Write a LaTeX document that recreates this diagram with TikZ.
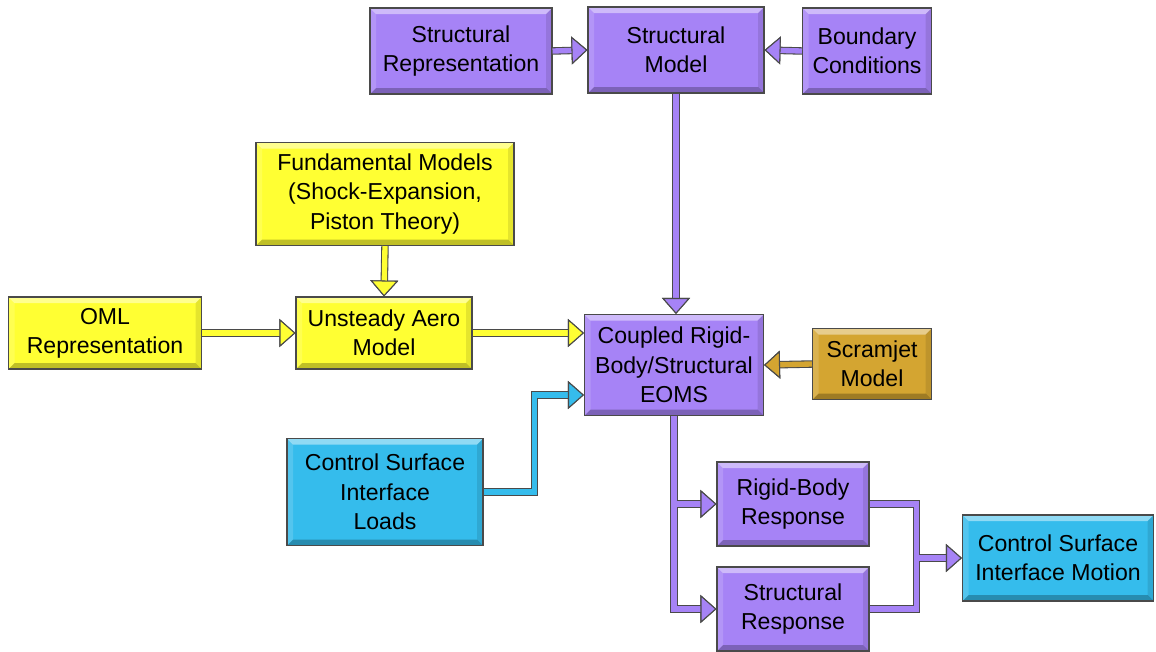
\documentclass[tikz,border=0pt]{standalone}
\usepackage{fontspec}
\setmainfont{Liberation Sans}
\usetikzlibrary{positioning,arrows.meta}
\definecolor{blk-purple}{RGB}{166,131,246}
\definecolor{blk-yellow}{RGB}{255,255,51}
\definecolor{blk-gold}{RGB}{212,165,49}
\definecolor{blk-cyan}{RGB}{53,188,236}
\definecolor{blk-edge}{RGB}{74,74,74}

\begin{document}
\begin{tikzpicture}[x=0.75pt, y=-0.75pt,
          box/.style={
            draw=blk-edge, line width=0.8pt, fill=#1,
            align=center, inner sep=1pt,
            font=\fontsize{17.3}{22}\selectfont,
            path picture={
              \fill[white, opacity=.45] (path picture bounding box.north west)
                -- (path picture bounding box.north east)
                -- ([shift={(-4.5pt,-4.5pt)}]path picture bounding box.north east)
                -- ([shift={(4.5pt,-4.5pt)}]path picture bounding box.north west) -- cycle;
              \fill[black, opacity=.25] (path picture bounding box.south west)
                -- (path picture bounding box.south east)
                -- ([shift={(-4.5pt,4.5pt)}]path picture bounding box.south east)
                -- ([shift={(4.5pt,4.5pt)}]path picture bounding box.south west) -- cycle;
              \fill[black, opacity=.1] (path picture bounding box.south east)
                -- (path picture bounding box.north east)
                -- ([shift={(-4.5pt,-4.5pt)}]path picture bounding box.north east)
                -- ([shift={(-4.5pt,4.5pt)}]path picture bounding box.south east) -- cycle;
              \fill[white, opacity=.15] (path picture bounding box.south west)
                -- (path picture bounding box.north west)
                -- ([shift={(4.5pt,-4.5pt)}]path picture bounding box.north west)
                -- ([shift={(4.5pt,4.5pt)}]path picture bounding box.south west) -- cycle;
            }},
          pipe/.style={
            line width=4pt, draw=#1,
            preaction={draw=blk-edge, line width=5.6pt}},
          flow/.style={
            line width=4pt, draw=#1,
            -{Triangle[length=12pt, width=21pt, fill=#1, color=blk-edge, line width=0.8pt]},
            preaction={draw=blk-edge, line width=5.6pt,
              -{Triangle[length=12pt, width=21pt, fill=blk-edge, color=blk-edge, line width=0.8pt]}}}
        ]
        \useasboundingbox[fill=white] (0,0) rectangle (1156,651);

        \node[box=blk-purple, minimum width=136.5pt, minimum height=64.5pt] (srep) at (461,51)
          {Structural\\Representation};
        \node[box=blk-purple, minimum width=132pt, minimum height=64.5pt] (smodel) at (676,50)
          {Structural\\Model};
        \node[box=blk-purple, minimum width=96.75pt, minimum height=64.5pt] (bcond) at (867,51)
          {Boundary\\Conditions};
        \node[box=blk-yellow, minimum width=193.5pt, minimum height=77.25pt] (fund) at (385,194)
          {Fundamental Models\\(Shock-Expansion,\\Piston Theory)};
        \node[box=blk-yellow, minimum width=144.75pt, minimum height=54pt] (oml) at (105,333)
          {OML\\Representation};
        \node[box=blk-yellow, minimum width=132pt, minimum height=54pt] (uaero) at (384,333)
          {Unsteady Aero\\Model};
        \node[box=blk-purple, minimum width=134.25pt, minimum height=75.75pt] (coupled) at (674,365)
          {Coupled Rigid-\\Body/Structural\\EOMS};
        \node[box=blk-gold, minimum width=89.25pt, minimum height=53.25pt] (scram) at (872,364)
          {Scramjet\\Model};
        \node[box=blk-cyan, minimum width=147pt, minimum height=80.25pt] (csil) at (385,492)
          {Control Surface\\Interface\\Loads};
        \node[box=blk-purple, minimum width=114pt, minimum height=63pt] (rigid) at (793,504)
          {Rigid-Body\\Response};
        \node[box=blk-purple, minimum width=114pt, minimum height=63pt] (sresp) at (793,609)
          {Structural\\Response};
        \node[box=blk-cyan, minimum width=143.25pt, minimum height=64.5pt] (csim) at (1058,558)
          {Control Surface\\Interface Motion};

        \coordinate (split) at (coupled.south |- rigid.west);
        \coordinate (jn) at ([xshift=35.25pt]rigid.east);
        \coordinate (merge) at (jn |- csim.west);

        \draw[flow=blk-purple] (srep.east) -- (smodel.west);
        \draw[flow=blk-purple] (bcond.west) -- (smodel.east);
        \draw[flow=blk-purple] (smodel.south) -- (smodel.south |- coupled.north);
        \draw[flow=blk-yellow] (fund.south) -- (uaero.north);
        \draw[flow=blk-yellow] (oml.east) -- (uaero.west);
        \draw[flow=blk-yellow] (uaero.east) -- (uaero.east -| coupled.west);
        \draw[flow=blk-gold] (scram.west) -- (coupled.east);
        \draw[flow=blk-cyan] (csil.east) -- ++(51,0) |- ([yshift=-22.5pt]coupled.west);
        \draw[flow=blk-purple] (coupled.south) |- (sresp.west);
        \draw[flow=blk-purple] ([xshift=2pt]split) -- (rigid.west);
        \draw[pipe=blk-purple] (rigid.east) -- (jn) |- (sresp.east);
        \draw[flow=blk-purple] ([xshift=2pt]merge) -- (csim.west);
      \end{tikzpicture}
\end{document}
